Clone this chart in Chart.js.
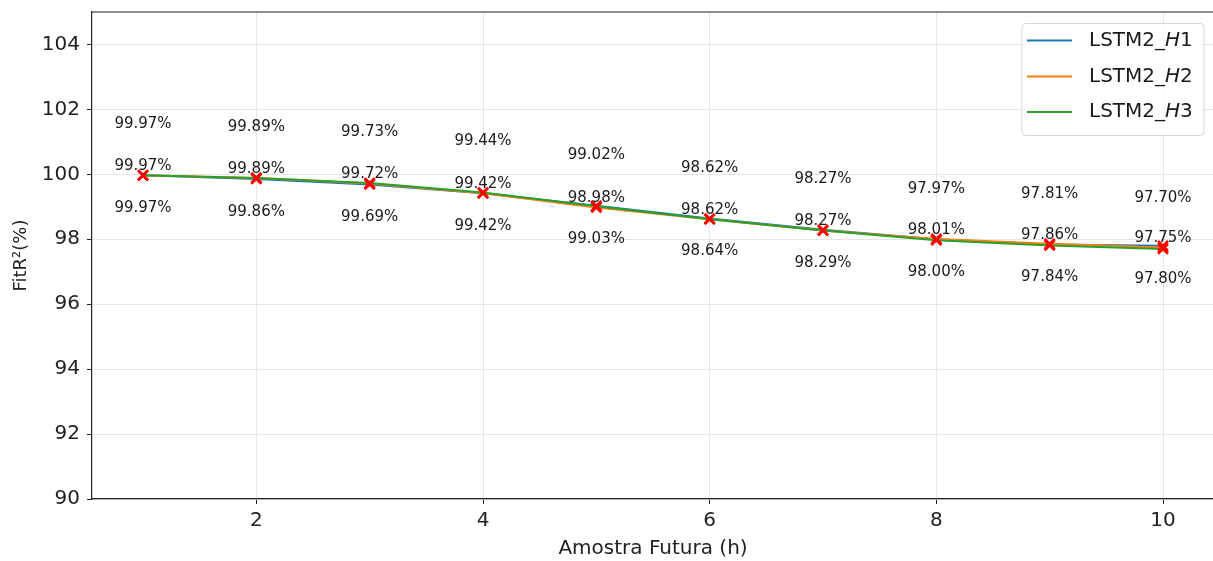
<!DOCTYPE html>
<html><head><meta charset="utf-8">
<script src="https://cdn.jsdelivr.net/npm/chart.js@4/dist/chart.umd.min.js"></script>
<style>html,body{margin:0;padding:0;overflow:hidden;background:#fff}#wrap{width:1216px;height:561px}</style>
</head><body><div id="wrap"><canvas id="c" width="1216" height="561"></canvas></div>
<script>
const horizons = [1, 2, 3, 4, 5, 6, 7, 8, 9, 10];
const seriesNames = ['LSTM2_H1', 'LSTM2_H2', 'LSTM2_H3'];
const fitH1 = [99.97, 99.86, 99.69, 99.42, 99.03, 98.64, 98.29, 98.00, 97.84, 97.80];
const fitH2 = [99.97, 99.89, 99.72, 99.42, 98.98, 98.62, 98.27, 98.01, 97.86, 97.75];
const fitH3 = [99.97, 99.89, 99.73, 99.44, 99.02, 98.62, 98.27, 97.97, 97.81, 97.70];
const xTicks = [2, 4, 6, 8, 10];
const yTicks = [90, 92, 94, 96, 98, 100, 102, 104];
const xTitle = 'Amostra Futura (h)';
const yTitle = 'FitR²(%)';

const FONT = "'DejaVu Sans', 'Liberation Sans', sans-serif";
const colors = ['#1f77b4', '#ff7f0e', '#2ca02c'];
const seriesValues = [fitH1, fitH2, fitH3];
const labelOffsets = [33, -9, -51];

const toXY = arr => horizons.map((h, i) => ({x: h, y: arr[i]}));

const datasets = [];
seriesValues.forEach((vals, i) => {
  datasets.push({
    label: seriesNames[i], data: toXY(vals), borderColor: colors[i], backgroundColor: colors[i],
    borderWidth: 2, pointRadius: 0, tension: 0, fill: false, order: 3 - i
  });
});
seriesValues.forEach((vals, i) => {
  datasets.push({
    label: seriesNames[i] + '_marks', data: toXY(vals), showLine: false,
    pointStyle: 'crossRot', pointRadius: 7, pointBorderColor: '#ff0000', pointBorderWidth: 2.5,
    pointBackgroundColor: '#ff0000', order: 0
  });
});

const framePlugin = {
  id: 'frame',
  afterDraw(chart) {
    const {ctx, chartArea: a} = chart;
    ctx.save();
    ctx.strokeStyle = '#222';
    ctx.lineWidth = 1.2;
    ctx.beginPath();
    ctx.moveTo(a.left, a.top); ctx.lineTo(a.right, a.top); ctx.lineTo(a.right, a.bottom);
    ctx.stroke();
    ctx.restore();
  }
};

const annotPlugin = {
  id: 'annot',
  afterDatasetsDraw(chart) {
    const ctx = chart.ctx;
    ctx.save();
    ctx.font = `15px ${FONT}`;
    ctx.fillStyle = '#1a1a1a';
    ctx.textAlign = 'center';
    ctx.textBaseline = 'middle';
    for (let i = 0; i < 3; i++) {
      const meta = chart.getDatasetMeta(i);
      meta.data.forEach((el, j) => {
        ctx.fillText(seriesValues[i][j].toFixed(2) + '%', el.x, el.y + labelOffsets[i]);
      });
    }
    ctx.restore();
  }
};

const legendPlugin = {
  id: 'mplLegend',
  afterDraw(chart) {
    const ctx = chart.ctx;
    const bx = 1022, by = 23.5, bw = 182, bh = 112, r = 4;
    ctx.save();
    ctx.beginPath();
    ctx.moveTo(bx + r, by); ctx.lineTo(bx + bw - r, by); ctx.quadraticCurveTo(bx + bw, by, bx + bw, by + r);
    ctx.lineTo(bx + bw, by + bh - r); ctx.quadraticCurveTo(bx + bw, by + bh, bx + bw - r, by + bh);
    ctx.lineTo(bx + r, by + bh); ctx.quadraticCurveTo(bx, by + bh, bx, by + bh - r);
    ctx.lineTo(bx, by + r); ctx.quadraticCurveTo(bx, by, bx + r, by);
    ctx.closePath();
    ctx.fillStyle = 'rgba(255,255,255,0.8)';
    ctx.fill();
    ctx.strokeStyle = '#d6d6d6';
    ctx.lineWidth = 1;
    ctx.stroke();
    const rowY = [40.5, 76.5, 112];
    seriesNames.forEach((name, i) => {
      const y = rowY[i];
      ctx.strokeStyle = colors[i];
      ctx.lineWidth = 2;
      ctx.beginPath(); ctx.moveTo(1027, y); ctx.lineTo(1072, y); ctx.stroke();
      const [pre, sub] = name.split('_');
      let x = 1089;
      ctx.fillStyle = '#1a1a1a';
      ctx.textBaseline = 'middle';
      ctx.textAlign = 'left';
      ctx.font = `20px ${FONT}`;
      const p1 = pre + '_';
      ctx.fillText(p1, x, y); x += ctx.measureText(p1).width;
      ctx.font = `italic 20px ${FONT}`;
      ctx.fillText(sub[0], x, y); x += ctx.measureText(sub[0]).width;
      ctx.font = `20px ${FONT}`;
      ctx.fillText(sub.slice(1), x, y);
    });
    ctx.restore();
  }
};

new Chart(document.getElementById('c'), {
  type: 'line',
  data: {datasets},
  options: {
    animation: false, responsive: false, devicePixelRatio: 1,
    layout: {autoPadding: false, padding: {top: 12, right: 2, bottom: 0, left: 0}},
    plugins: {legend: {display: false}, tooltip: {enabled: false}},
    scales: {
      x: {
        type: 'linear', min: 0.55, max: 10.45,
        afterBuildTicks: s => { s.ticks = xTicks.map(v => ({value: v})); },
        afterFit: s => { s.height = 62; s.paddingLeft = 0; s.paddingRight = 0; },
        grid: {color: '#e6e6e6', lineWidth: 1, tickColor: '#222', tickLength: 5},
        border: {color: '#222', width: 1.2},
        ticks: {font: {family: FONT, size: 20}, color: '#222', padding: 5, maxRotation: 0, autoSkip: false},
        title: {display: true, text: xTitle, font: {family: FONT, size: 20, lineHeight: 1.2}, color: '#222', padding: {top: 0, bottom: 0}}
      },
      y: {
        min: 90, max: 105,
        afterBuildTicks: s => { s.ticks = yTicks.map(v => ({value: v})); },
        afterFit: s => { s.width = 92; s.paddingTop = 0; s.paddingBottom = 0; },
        grid: {color: '#e6e6e6', lineWidth: 1, tickColor: '#222', tickLength: 5},
        border: {color: '#222', width: 1.2},
        ticks: {font: {family: FONT, size: 20}, color: '#222', padding: 7, autoSkip: false},
        title: {display: true, text: yTitle, font: {family: FONT, size: 18, lineHeight: 1.2}, color: '#222', padding: {top: 11, bottom: 0}}
      }
    }
  },
  plugins: [framePlugin, annotPlugin, legendPlugin]
});
</script></body></html>
